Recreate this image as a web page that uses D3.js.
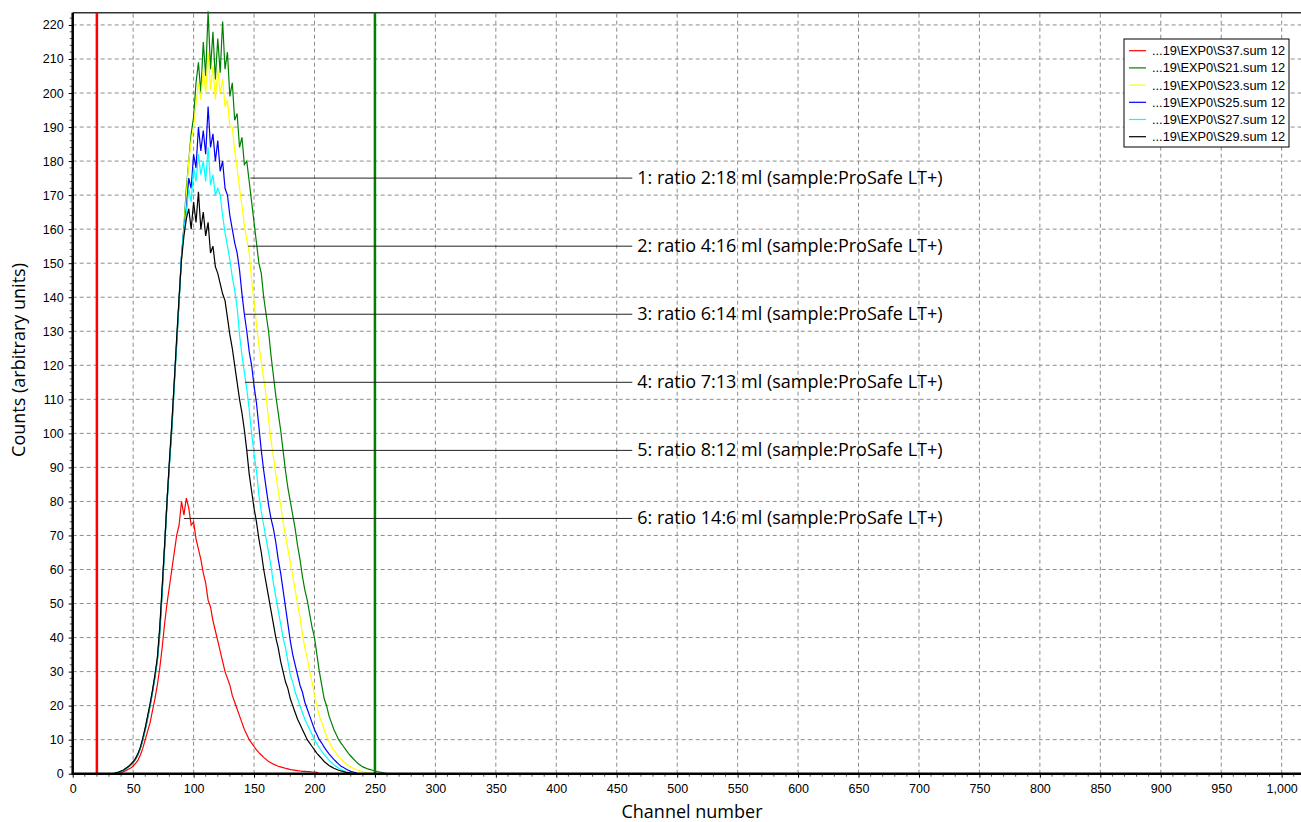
<!DOCTYPE html>
<html>
<head>
<meta charset="utf-8">
<script src="https://cdn.jsdelivr.net/npm/d3@7"></script>
<style>
  body { margin: 0; background: #fff; }
  .tick text { font-family: "Liberation Sans", Arial, sans-serif; font-size: 12.5px; fill: #000; }
  .title { font-family: "Open Sans", "Noto Sans", sans-serif; font-size: 18px; fill: #000; }
  .ann { font-family: "Open Sans", "Noto Sans", sans-serif; font-size: 18px; fill: #000; }
  .leg { font-family: "Liberation Sans", Arial, sans-serif; font-size: 12.8px; fill: #000; }
</style>
</head>
<body>
<div id="chart"></div>
<script>
// spectra sampled every 2 channels starting at channel 34
const startChannel = 34;
const channelStep = 2;

const s37 = [0,0,0,0.3,0.6,0.9,1.3,1.7,2.2,3,4,5.5,7.5,10,12.5,15,18.5,22,26,31,37,44,50,55,60,65,70,73,
  80,76,81,78,73,74,69,66,63,59,56,51,49,45,42,39,36,33,30,28,26,23,21,19,17,15,13,11.5,10,
  9,8,7,6.2,5.5,4.8,4.2,3.6,3.2,2.8,2.5,2.2,2,1.8,1.6,1.4,1.2,1.1,1,0.9,0.8,0.7,0.7,0.6,0.6,0.5,0.5,0.4,0];

const s21 = [0,0.2,0.4,0.6,1,1.4,2,2.5,3.2,4.2,5.5,7.4,9.8,12.8,16.2,19.8,23.8,28.2,33,41,53,66,79,91,101,114,126,139,
  152,161,172,180,188,193,203,209,200,215,205,224,207,218,204,216,206,221,207,212,199,203,192,194,184,187,179,180,174,
  168,162,156,150,147,140,135,130,123,117,111,106,101,95,89,84,80,76,72,67,63,58,54,51,47,43,40,35,30,26,22,20,17,15,13,11.5,
  10,9,8,7,6,5.2,4.4,3.7,3,2.5,2,1.7,1.4,1.2,1,0.8,0.6,0.5,0.3,0.2,0];

const s23 = [0,0.2,0.4,0.7,1,1.5,2,2.6,3.3,4.3,5.6,7.5,10,13,16.5,20,24,28.5,33,42,54,66,80,91,102,114,127,139,
  151,160,170,180,186,190,197,203,198,207,200,212,201,208,198,207,200,204,196,198,190,190,183,178,172,167,161,157,153,
  145,139,132,126,121,116,111,104,98,93,88,83,79,74,70,66,62,58,54,50,46,41,37,34,30,27,23,20,17,15,13,11,9.5,8,7,6,
  5,4.3,3.6,3,2.4,2,1.6,1.3,1,0.8,0.6,0.4,0.3,0.1,0];

const s25 = [0,0.2,0.4,0.7,1,1.5,2,2.6,3.4,4.4,5.7,7.6,10.2,13.2,16.6,20.2,24.2,28.6,33.5,42,54,67,80,91,102,115,127,139,
  152,160,166,175,172,182,178,190,183,189,182,196,184,188,180,186,177,180,172,170,164,160,156,153,148,141,135,130,124,
  120,114,109,102,95,89,84,79,75,72,68,63,59,54,49,44,39,35,32,29,26,24,21,19,17,15,13,11.5,10,9,7.8,6.8,5.8,5,4.2,3.5,
  2.8,2.2,1.8,1.4,1,0.7,0.5,0.3,0];

const s27 = [0,0.2,0.4,0.7,1,1.5,2.1,2.7,3.4,4.4,5.7,7.6,10.1,13.1,16.6,20.1,24.1,28.6,33.2,42,54,66,80,91,102,114,127,139,
  152,160,165,172,168,178,174,182,176,180,174,184,173,176,170,172,170,164,159,155,151,146,142,137,129,123,118,113,107,
  100,94,89,82,77,73,69,65,61,56,52,48,44,40,37,33,29,27,24,22,20,18,16,14.5,13,11.5,10,8.8,7.6,6.6,5.6,4.8,4,3.3,2.6,
  2.1,1.6,1.2,0.9,0.6,0.4,0.2,0];

const s29 = [0,0.3,0.5,0.8,1.1,1.6,2.1,2.8,3.5,4.5,5.9,7.8,10.5,13.5,17,20.5,24.5,29,34,43,55,67,80,92,103,115,128,140,
  151,158,163,166,160,168,162,171,160,165,158,162,153,155,149,147,144,141,139,134,129,125,120,115,110,106,101,95,88,
  83,78,74,69,65,60,56,52,48,44,40,37,33,30,27,25,22,20,18,16,14.5,13,11.5,10,9,8,7,6,5.2,4.4,3.6,3,2.4,2,1.6,1.3,
  1,0.8,0.6,0.4,0.3,0.2,0.1,0];

const seriesNames = ["...19\\EXP0\\S37.sum 12", "...19\\EXP0\\S21.sum 12", "...19\\EXP0\\S23.sum 12",
                     "...19\\EXP0\\S25.sum 12", "...19\\EXP0\\S27.sum 12", "...19\\EXP0\\S29.sum 12"];
const seriesValues = [s37, s21, s23, s25, s27, s29];
const seriesColors = ["#ff0000", "#008000", "#ffff00", "#0000ff", "#00ffff", "#000000"];

// region markers (channel)
const markerChannels = [20, 250];
const markerColors = ["#ff0000", "#008000"];

// annotations: level, channel where the leader starts, text
const annLevels = [175, 155, 135, 115, 95, 75];
const annStarts = [147, 145, 142.5, 142.5, 144, 92];
const annLabels = ["1: ratio 2:18 ml (sample:ProSafe LT+)", "2: ratio 4:16 ml (sample:ProSafe LT+)",
                   "3: ratio 6:14 ml (sample:ProSafe LT+)", "4: ratio 7:13 ml (sample:ProSafe LT+)",
                   "5: ratio 8:12 ml (sample:ProSafe LT+)", "6: ratio 14:6 ml (sample:ProSafe LT+)"];
const annTextChannel = 467;

const xTicks = d3.range(0, 1001, 50);
const yTicks = d3.range(0, 221, 10);

const width = 1301, height = 822;
const margin = { top: 12.7, left: 72.7, bottom: 48.3 };

const svg = d3.select("#chart").append("svg")
  .attr("width", width)
  .attr("height", height);

const x = d3.scaleLinear().domain([0, 1016]).range([margin.left, width]);
const y = d3.scaleLinear().domain([0, 223.6]).range([height - margin.bottom, margin.top]);

// grid
const grid = svg.append("g");
grid.selectAll("line.gx")
  .data(xTicks.filter(d => d > 0))
  .enter().append("line")
  .attr("x1", d => x(d)).attr("x2", d => x(d))
  .attr("y1", y(0)).attr("y2", margin.top)
  .attr("stroke", "#8c8c8c").attr("stroke-dasharray", "4,3");
grid.selectAll("line.gy")
  .data(yTicks.filter(d => d > 0))
  .enter().append("line")
  .attr("x1", x(0)).attr("x2", width)
  .attr("y1", d => y(d)).attr("y2", d => y(d))
  .attr("stroke", "#8c8c8c").attr("stroke-dasharray", "4,3");

// top border
svg.append("line")
  .attr("x1", x(0)).attr("x2", width)
  .attr("y1", margin.top).attr("y2", margin.top)
  .attr("stroke", "#333").attr("stroke-width", 1.5);

// curves
const line = d3.line()
  .x((d, i) => x(startChannel + i * channelStep))
  .y(d => y(d));

svg.append("g")
  .selectAll("path")
  .data(seriesValues)
  .enter().append("path")
  .attr("d", d => line(d))
  .attr("fill", "none")
  .attr("stroke", (d, i) => seriesColors[i])
  .attr("stroke-width", 1.2);

// markers
svg.append("g")
  .selectAll("line")
  .data(markerChannels)
  .enter().append("line")
  .attr("x1", d => x(d)).attr("x2", d => x(d))
  .attr("y1", margin.top).attr("y2", y(0))
  .attr("stroke", (d, i) => markerColors[i])
  .attr("stroke-width", 2.5);

// annotations
const ann = svg.append("g");
ann.selectAll("line")
  .data(annLevels)
  .enter().append("line")
  .attr("x1", (d, i) => x(annStarts[i]))
  .attr("x2", x(annTextChannel) - 5)
  .attr("y1", d => y(d)).attr("y2", d => y(d))
  .attr("stroke", "#222").attr("stroke-width", 1);
ann.selectAll("text")
  .data(annLevels)
  .enter().append("text")
  .attr("class", "ann")
  .attr("x", x(annTextChannel))
  .attr("y", d => y(d) + 6)
  .text((d, i) => annLabels[i]);

// axes
const xAxis = svg.append("g")
  .attr("transform", `translate(0,${y(0)})`)
  .call(d3.axisBottom(x).tickValues(xTicks).tickFormat(d3.format(",")).tickSize(4).tickPadding(6));
xAxis.select(".domain").remove();
xAxis.append("g")
  .selectAll("line")
  .data(d3.range(10, 1011, 10).filter(d => d % 50 !== 0))
  .enter().append("line")
  .attr("x1", d => x(d)).attr("x2", d => x(d))
  .attr("y1", 0).attr("y2", 3)
  .attr("stroke", "#555");
xAxis.append("line")
  .attr("x1", x(0) - 1).attr("x2", width)
  .attr("stroke", "#000").attr("stroke-width", 2.5);

const yAxis = svg.append("g")
  .attr("transform", `translate(${x(0)},0)`)
  .call(d3.axisLeft(y).tickValues(yTicks).tickSize(4).tickPadding(5));
yAxis.select(".domain").remove();
yAxis.append("g")
  .selectAll("line")
  .data(d3.range(2, 223, 2).filter(d => d % 10 !== 0))
  .enter().append("line")
  .attr("x1", -3).attr("x2", 0)
  .attr("y1", d => y(d)).attr("y2", d => y(d))
  .attr("stroke", "#555");
yAxis.append("line")
  .attr("y1", margin.top).attr("y2", y(0) + 1)
  .attr("stroke", "#000").attr("stroke-width", 2.5);

// axis titles
svg.append("text")
  .attr("class", "title")
  .attr("x", 692).attr("y", 818)
  .attr("text-anchor", "middle")
  .text("Channel number");
svg.append("text")
  .attr("class", "title")
  .attr("transform", "translate(25,360) rotate(-90)")
  .attr("text-anchor", "middle")
  .text("Counts (arbitrary units)");

// legend
const legend = svg.append("g").attr("transform", "translate(1124,39)");
legend.append("rect")
  .attr("width", 165).attr("height", 108)
  .attr("fill", "#fff").attr("stroke", "#000");
legend.selectAll("line")
  .data(seriesNames)
  .enter().append("line")
  .attr("x1", 5).attr("x2", 22)
  .attr("y1", (d, i) => 11.7 + i * 17.2).attr("y2", (d, i) => 11.7 + i * 17.2)
  .attr("stroke", (d, i) => seriesColors[i]).attr("stroke-width", 1.2);
legend.selectAll("text")
  .data(seriesNames)
  .enter().append("text")
  .attr("class", "leg")
  .attr("x", 28)
  .attr("y", (d, i) => 16.2 + i * 17.2)
  .text(d => d);
</script>
</body>
</html>
